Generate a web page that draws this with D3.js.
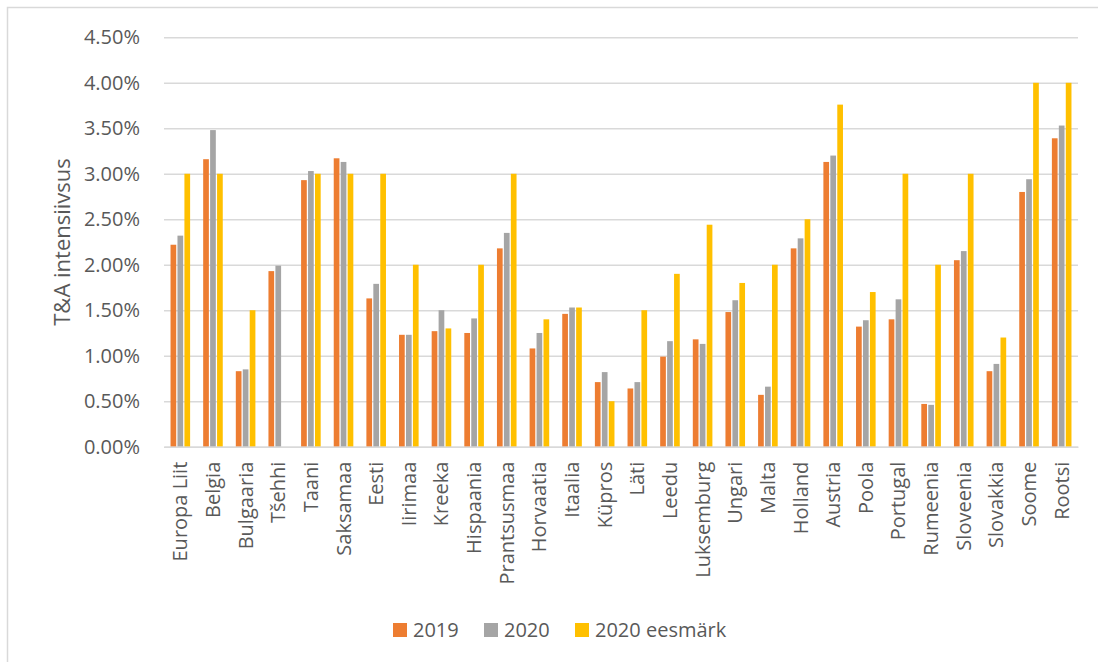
<!DOCTYPE html>
<html>
<head>
<meta charset="utf-8">
<script src="https://cdn.jsdelivr.net/npm/d3@7"></script>
<style>
  body { margin: 0; background: #fff; }
  svg { display: block; }
</style>
</head>
<body>
<script>
// countries on the x axis
var countries = ["Europa Liit", "Belgia", "Bulgaaria", "Tšehhi", "Taani", "Saksamaa", "Eesti",
    "Iirimaa", "Kreeka", "Hispaania", "Prantsusmaa", "Horvaatia", "Itaalia", "Küpros", "Läti",
    "Leedu", "Luksemburg", "Ungari", "Malta", "Holland", "Austria", "Poola", "Portugal",
    "Rumeenia", "Sloveenia", "Slovakkia", "Soome", "Rootsi"];

// R&D intensity, percent
var val2019 = [2.22, 3.16, 0.83, 1.93, 2.93, 3.17, 1.63, 1.23, 1.27, 1.25, 2.18, 1.08, 1.46, 0.71,
    0.64, 0.99, 1.18, 1.48, 0.57, 2.18, 3.13, 1.32, 1.40, 0.47, 2.05, 0.83, 2.80, 3.39];
var val2020 = [2.32, 3.48, 0.85, 1.99, 3.03, 3.13, 1.79, 1.23, 1.50, 1.41, 2.35, 1.25, 1.53, 0.82,
    0.71, 1.16, 1.13, 1.61, 0.66, 2.29, 3.20, 1.39, 1.62, 0.46, 2.15, 0.91, 2.94, 3.53];
var target2020 = [3.00, 3.00, 1.50, 0, 3.00, 3.00, 3.00, 2.00, 1.30, 2.00, 3.00, 1.40, 1.53, 0.50,
    1.50, 1.90, 2.44, 1.80, 2.00, 2.50, 3.76, 1.70, 3.00, 2.00, 3.00, 1.20, 4.00, 4.00];

var seriesNames = ["2019", "2020", "2020 eesmärk"];
var seriesColors = ["#ED7D31", "#A5A5A5", "#FFC000"];
var yTicks = [0, 0.5, 1, 1.5, 2, 2.5, 3, 3.5, 4, 4.5];

var width = 1098, height = 662;
var plotLeft = 164, plotRight = 1078, plotTop = 37.3, plotBottom = 446.7;
var font = "'Open Sans', 'Noto Sans', sans-serif";
var textColor = "#595959";

var svg = d3.select("body").append("svg")
    .attr("width", width)
    .attr("height", height);

// chart border (runs off the right and bottom edge like the screenshot)
svg.append("rect")
    .attr("x", 7.5)
    .attr("y", 7.5)
    .attr("width", 1200)
    .attr("height", 800)
    .attr("fill", "none")
    .attr("stroke", "#D9D9D9")
    .attr("stroke-width", 1.5);

var xScale = d3.scaleBand()
    .domain(countries)
    .range([plotLeft, plotRight])
    .paddingInner(0.4)
    .paddingOuter(0.2);

var xSub = d3.scaleBand()
    .domain(d3.range(3))
    .range([0, xScale.bandwidth()])
    .paddingInner(0.18);

var yScale = d3.scaleLinear()
    .domain([0, 4.5])
    .range([plotBottom, plotTop]);

// gridlines + y labels
var yAxis = d3.axisLeft(yScale)
    .tickValues(yTicks)
    .tickSize(-(plotRight - plotLeft))
    .tickPadding(24)
    .tickFormat(function (d) { return d.toFixed(2) + "%"; });

var gy = svg.append("g")
    .attr("transform", "translate(" + plotLeft + ",0)")
    .call(yAxis);
gy.select(".domain").remove();
gy.selectAll(".tick line")
    .attr("stroke", "#D9D9D9")
    .attr("stroke-width", 1.5);
gy.selectAll(".tick text")
    .attr("font-family", font)
    .attr("font-size", "20px")
    .attr("fill", textColor);

// bars
var rows = countries.map(function (c, i) {
    return { name: c, values: [val2019[i], val2020[i], target2020[i]] };
});

var groups = svg.selectAll("g.grp")
    .data(rows)
    .enter()
    .append("g")
    .attr("class", "grp")
    .attr("transform", function (d) {
        return "translate(" + xScale(d.name) + ",0)";
    });

groups.selectAll("rect")
    .data(function (d) { return d.values; })
    .enter()
    .append("rect")
    .attr("x", function (d, i) { return xSub(i); })
    .attr("width", xSub.bandwidth())
    .attr("y", function (d) { return yScale(d); })
    .attr("height", function (d) { return yScale(0) - yScale(d); })
    .attr("fill", function (d, i) { return seriesColors[i]; });

// x axis
var xAxis = d3.axisBottom(xScale).tickSize(0).tickPadding(0);
var gx = svg.append("g")
    .attr("transform", "translate(0," + plotBottom + ")")
    .call(xAxis);
gx.select(".domain")
    .attr("stroke", "#D9D9D9")
    .attr("stroke-width", 1.5);
gx.selectAll(".tick text")
    .attr("font-family", font)
    .attr("font-size", "20px")
    .attr("fill", textColor)
    .attr("text-anchor", "end")
    .attr("dy", "0.35em")
    .attr("transform", "translate(0,15) rotate(-90)");

// y axis title
svg.append("text")
    .attr("transform", "translate(62," + ((plotTop + plotBottom) / 2) + ") rotate(-90)")
    .attr("text-anchor", "middle")
    .attr("dy", "0.35em")
    .attr("font-family", font)
    .attr("font-size", "22px")
    .attr("fill", textColor)
    .text("T&A intensiivsus");

// legend
var legendX = [393, 484, 575];
var legend = svg.selectAll("g.leg")
    .data(seriesNames)
    .enter()
    .append("g")
    .attr("class", "leg")
    .attr("transform", function (d, i) {
        return "translate(" + legendX[i] + ",630)";
    });

legend.append("rect")
    .attr("x", 0)
    .attr("y", -7)
    .attr("width", 14)
    .attr("height", 14)
    .attr("fill", function (d, i) { return seriesColors[i]; });

legend.append("text")
    .attr("x", 20)
    .attr("y", 0)
    .attr("dy", "0.35em")
    .attr("font-family", font)
    .attr("font-size", "20px")
    .attr("fill", textColor)
    .text(function (d) { return d; });
</script>
</body>
</html>
